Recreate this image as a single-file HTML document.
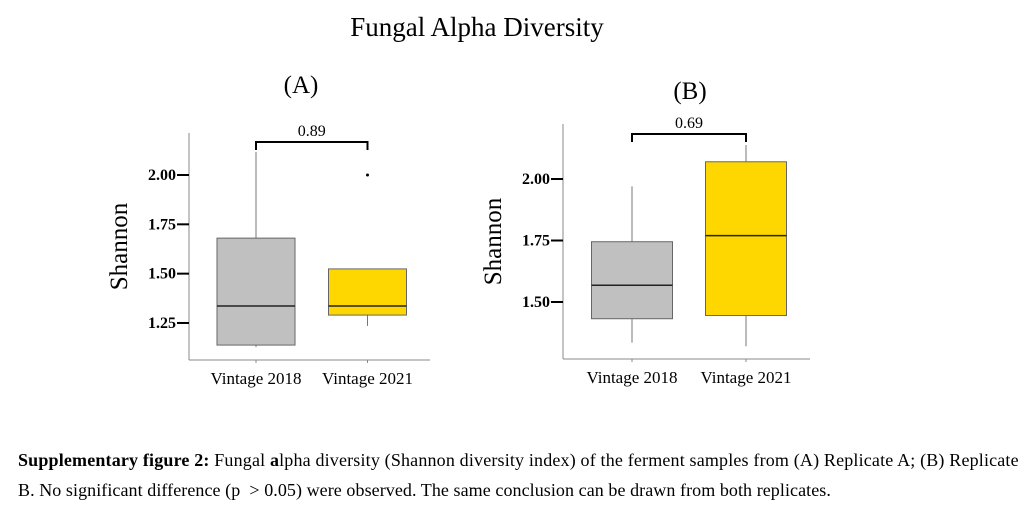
<!DOCTYPE html>
<html><head><meta charset="utf-8"><style>
body{margin:0;background:#fff;width:1029px;height:511px;overflow:hidden;font-family:"Liberation Serif",serif}
svg{position:absolute;left:0;top:0}
.cap{position:absolute;left:18px;font-size:18px;color:#000;white-space:nowrap}
</style></head><body>
<svg id="chart" width="1029" height="511"></svg>
<div class="cap" style="top:450px;letter-spacing:0.17px"><b>Supplementary figure 2:</b> Fungal <b>a</b>lpha diversity (Shannon diversity index) of the ferment samples from (A) Replicate A; (B) Replicate</div>
<div class="cap" style="top:480px;letter-spacing:0.07px">B. No significant difference (p &nbsp;&gt; 0.05) were observed. The same conclusion can be drawn from both replicates.</div>
<script>
const categories=["Vintage 2018","Vintage 2021"];
const colors=["#c0c0c0","#ffd700"];
const aTicks=[2.00,1.75,1.50,1.25];
const aMin=[1.128,1.235],aQ1=[1.138,1.29],aMed=[1.336,1.336],aQ3=[1.68,1.524],aMax=[2.117,1.524];
const aOut=[[],[2.00]];
const aP="0.89";
const bTicks=[2.00,1.75,1.50];
const bMin=[1.335,1.32],bQ1=[1.432,1.445],bMed=[1.568,1.77],bQ3=[1.745,2.07],bMax=[1.97,2.138];
const bOut=[[],[]];
const bP="0.69";
const svg=document.getElementById('chart');
const NS="http://www.w3.org/2000/svg";
function mk(t,a,txt){const e=document.createElementNS(NS,t);for(const k in a)e.setAttribute(k,a[k]);if(txt!==undefined)e.textContent=txt;svg.appendChild(e);return e;}
function txt(x,y,s,size,anchor,weight,name){const e=mk('text',{x:x,y:y,'font-size':size,'text-anchor':anchor||'middle','font-weight':weight||'normal','font-family':'Liberation Serif, serif',fill:'#000'},s);

return e;}
txt(477,36,"Fungal Alpha Diversity",27,'middle','normal','figure-title');
function panel(o){
 const y=v=>o.y0-(v-o.v0)*o.k;
 const xs=[o.cx0,o.cx1];
 let l=mk('line',{x1:o.ax,y1:o.top,x2:o.ax,y2:o.bot,stroke:'#888','stroke-width':1});
 
 
 l=mk('line',{x1:o.ax,y1:o.bot,x2:o.right,y2:o.bot,stroke:'#888','stroke-width':1});
 
 
 txt(o.lx,o.ly,o.label,25,'middle','normal',o.id+'-panel-label');
 o.ticks.forEach(v=>{const t=mk('line',{x1:o.ax-12,y1:y(v),x2:o.ax,y2:y(v),stroke:'#000','stroke-width':2});
  
  
  txt(o.ax-13,y(v)+5,v.toFixed(2),16,'end','bold',o.id+'-y-tick-label');});
 const yt=txt(0,0,"Shannon",25,'middle','normal',o.id+'-y-axis-title');
 yt.setAttribute('transform',`translate(${o.ax-62},${(o.top+o.bot)/2}) rotate(-90)`);
 categories.forEach((c,i)=>{
  const cx=xs[i],hw=o.hw;
  let w=mk('line',{x1:cx,y1:y(o.mx[i]),x2:cx,y2:y(o.mn[i]),stroke:'#777','stroke-width':1});
  
  
  let b=mk('rect',{x:cx-hw,y:y(o.q3[i]),width:2*hw,height:y(o.q1[i])-y(o.q3[i]),fill:colors[i],stroke:'#666','stroke-width':1});
  
  
  let m=mk('line',{x1:cx-hw,y1:y(o.md[i]),x2:cx+hw,y2:y(o.md[i]),stroke:'#222','stroke-width':1.5});
  
  
  o.out[i].forEach(v=>{const p=mk('circle',{cx:cx,cy:y(v),r:1.5,fill:'#000'});
   
   });
  const tk=mk('line',{x1:cx,y1:o.bot,x2:cx,y2:o.bot+3,stroke:'#888'});
  
  
  txt(cx,o.bot+24,c,17,'middle','normal',o.id+'-x-tick-label');
 });
 const br=mk('path',{d:`M${xs[0]},${o.by+8}V${o.by}H${xs[1]}V${o.by+8}`,fill:'none',stroke:'#000','stroke-width':2});
 
 
 txt((xs[0]+xs[1])/2,o.by-6,o.p,16,'middle','normal',o.id+'-p-value');
}
panel({id:'panel-a',label:'(A)',lx:301,ly:93,ax:189,top:133,bot:360,right:430,y0:175,v0:2,k:197.3,ticks:aTicks,cx0:256,cx1:367.5,hw:39,mn:aMin,q1:aQ1,md:aMed,q3:aQ3,mx:aMax,out:aOut,by:142,p:aP});
panel({id:'panel-b',label:'(B)',lx:690,ly:99,ax:563,top:124,bot:359,right:810,y0:179,v0:2,k:246,ticks:bTicks,cx0:632,cx1:746,hw:40.5,mn:bMin,q1:bQ1,md:bMed,q3:bQ3,mx:bMax,out:bOut,by:134,p:bP});
</script>
</body></html>
